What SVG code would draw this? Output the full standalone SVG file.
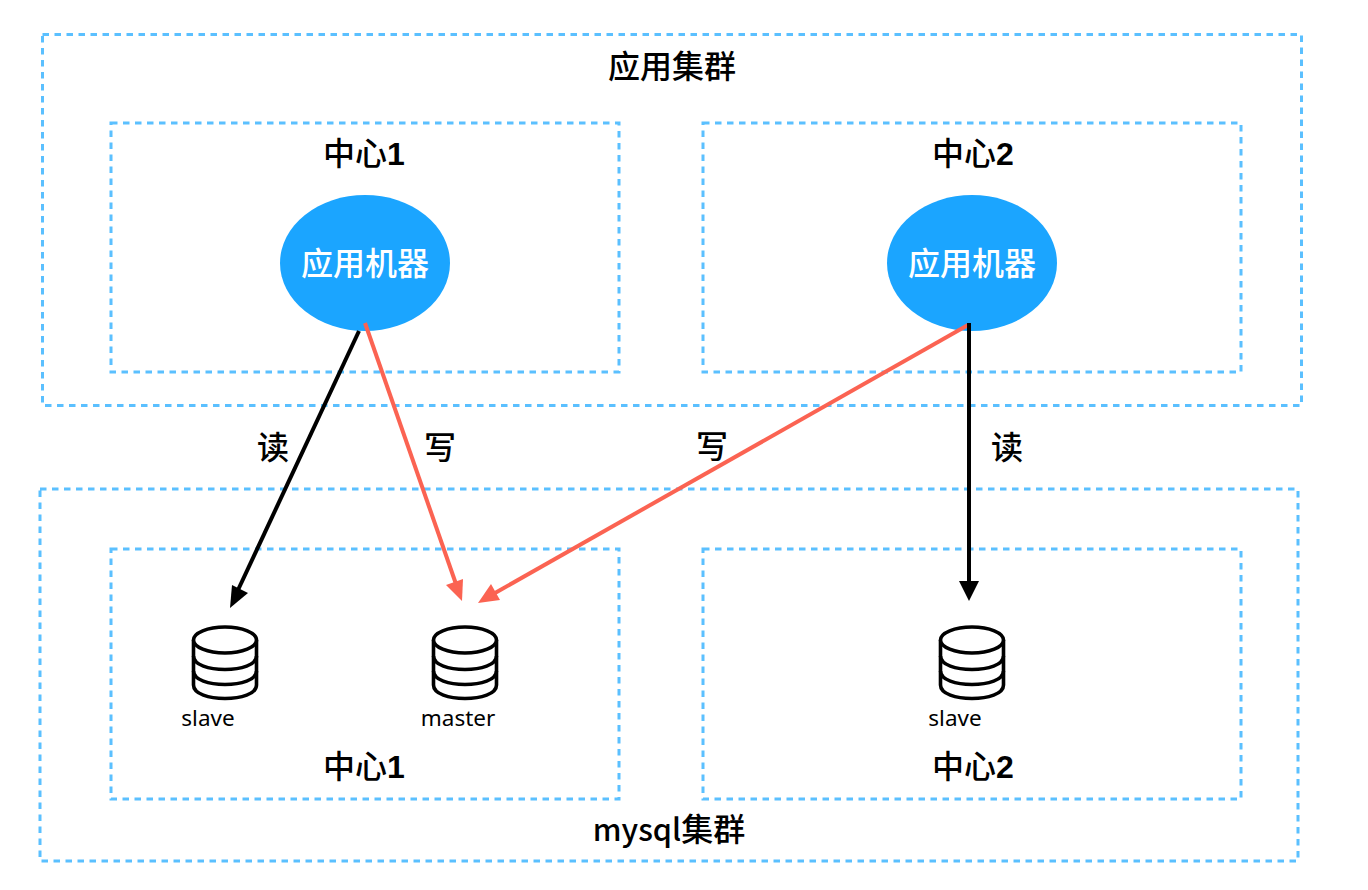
<svg xmlns="http://www.w3.org/2000/svg" width="1368" height="890" viewBox="0 0 1368 890">
<style>
.box{fill:none;stroke:#5bc0ff;stroke-width:3;stroke-dasharray:6.500 5.500}
.t{font-family:"Noto Sans CJK SC","Liberation Sans",sans-serif;font-size:32px;font-weight:500;text-anchor:middle;fill:#000}
.d{font-family:"Liberation Sans",sans-serif;font-weight:700}
.m{font-size:30.500px}
.w{fill:#fff;font-weight:500}
.s{font-family:"Noto Sans","Open Sans",sans-serif;font-size:22.500px;text-anchor:middle;fill:#000}
.db{fill:#fff;stroke:#000;stroke-width:3.600}
.b{stroke:#000;stroke-width:4;fill:none}
.r{stroke:#fb6352;stroke-width:4;fill:none}
</style>
<defs>
<g id="dbi"><path class="db" d="M-31.500 -23V22C-31.500 40 31.500 40 31.500 22V-23"/><ellipse class="db" cx="0" cy="-23" rx="31.500" ry="13"/><path class="db" style="fill:none" d="M-31.500 -7C-31.500 11 31.500 11 31.500 -7M-31.500 8C-31.500 26 31.500 26 31.500 8"/></g>
</defs>
<rect width="1368" height="890" fill="#fff"/>
<g id="cluster-app"><rect class="box" x="42.500" y="34.500" width="1259" height="371"/><text class="t" x="672" y="78">应用集群</text></g>
<g id="app-c1"><rect class="box" x="111" y="123" width="508" height="249"/><text class="t" x="364" y="165">中心<tspan class="d">1</tspan></text></g>
<g id="app-c2"><rect class="box" x="703" y="123" width="538" height="249"/><text class="t" x="973" y="165">中心<tspan class="d">2</tspan></text></g>
<g id="cluster-mysql"><rect class="box" x="40" y="489" width="1258" height="372"/><text class="t" x="669" y="841"><tspan class="m">mysql</tspan>集群</text></g>
<g id="db-c1"><rect class="box" x="111" y="549" width="508" height="250"/><text class="t" x="364" y="778">中心<tspan class="d">1</tspan></text></g>
<g id="db-c2"><rect class="box" x="703" y="549" width="538" height="250"/><text class="t" x="973" y="778">中心<tspan class="d">2</tspan></text></g>
<g id="app1"><ellipse cx="365" cy="263" rx="85" ry="68" fill="#1ba5ff"/><text class="t w" x="365" y="275">应用机器</text></g>
<g id="app2"><ellipse cx="972" cy="263" rx="85" ry="68" fill="#1ba5ff"/><text class="t w" x="972" y="275">应用机器</text></g>
<g id="db-slave1"><use href="#dbi" x="225" y="663"/><text class="s" x="208" y="726">slave</text></g>
<g id="db-master"><use href="#dbi" x="465" y="663"/><text class="s" x="458" y="726">master</text></g>
<g id="db-slave2"><use href="#dbi" x="972" y="663"/><text class="s" x="955" y="726">slave</text></g>
<g id="connectors">
<path class="b" d="M359 331L238 590"/><path d="M230 608L232 585L248 593Z"/>
<path class="r" d="M365 323L456 584"/><path fill="#fb6352" d="M462 601L446 585L463 579Z"/>
<path class="r" d="M968 325L495 593"/><path fill="#fb6352" d="M478 603L491 584L500 600Z"/>
<path class="b" d="M969 323V582"/><path d="M969 601L959 581H979Z"/>
</g>
<g id="labels"><text class="t" x="273" y="459">读</text><text class="t" x="440" y="459">写</text><text class="t" x="712" y="458">写</text><text class="t" x="1007" y="459">读</text></g>
</svg>
